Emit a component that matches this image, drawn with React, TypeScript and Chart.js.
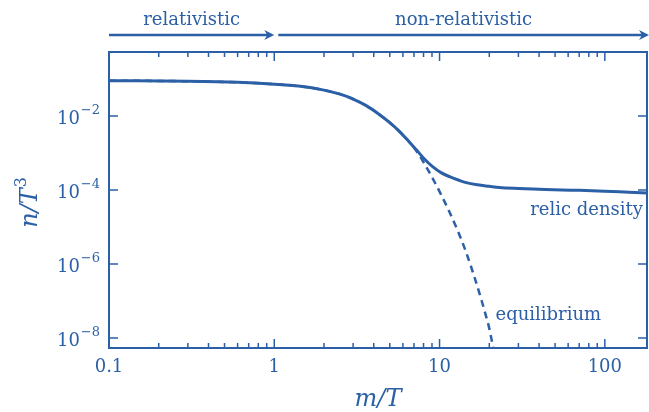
import React, { useEffect, useRef } from "react";
import { Chart, registerables } from "chart.js";

Chart.register(...registerables);

// m/T sample points along the frozen-out (relic) abundance curve
const relicX = [
  0.1, 0.3, 0.6, 1.0, 1.4, 2.0, 2.5, 3.0, 3.6, 4.3, 5.0, 5.73, 6.5, 7.26, 8.1,
  9.08, 10.2, 11.5, 13, 14.5, 17, 20, 23, 30, 40, 55, 70, 100, 140, 180,
];
// n/T^3 for the relic curve
const relicY = [
  0.0902, 0.0871, 0.0813, 0.0724, 0.0646, 0.0501, 0.0389, 0.0288, 0.0191,
  0.0112, 0.0066, 0.0038, 0.00209, 0.0012, 6.92e-4, 4.27e-4, 2.95e-4, 2.29e-4,
  1.86e-4, 1.58e-4, 1.38e-4, 1.26e-4, 1.17e-4, 1.1e-4, 1.05e-4, 1.0e-4, 9.8e-5,
  9.3e-5, 8.7e-5, 8.3e-5,
];

// m/T sample points along the equilibrium abundance curve
const equilX = [
  0.1, 0.3, 0.6, 1.0, 1.4, 2.0, 2.5, 3.0, 3.6, 4.3, 5.0, 5.73, 6.5, 7.23, 8.1,
  9.1, 10.2, 11.5, 13, 14.5, 16.3, 18, 19.2, 20, 20.8, 21.6,
];
// n/T^3 for the equilibrium curve
const equilY = [
  0.0902, 0.0871, 0.0813, 0.0724, 0.0646, 0.0501, 0.0389, 0.0288, 0.0191,
  0.0112, 0.0066, 0.0038, 0.00209, 0.00115, 5.13e-4, 2.04e-4, 7.6e-5, 2.51e-5,
  7.2e-6, 2.04e-6, 4.27e-7, 1.0e-7, 3.63e-8, 1.82e-8, 7.6e-9, 3.5e-9,
];

// axis extents and labelled ticks
const xMin = 0.1;
const xMax = 180;
const yMin = 5.37e-9;
const yMax = 0.537;
const xTickValues = [0.1, 1, 10, 100];
const xTickLabels = ["0.1", "1", "10", "100"];
const yTickExponents = [-2, -4, -6, -8];

// regime labels above the plot: [from, to, text]
const regimeFrom = [0.1, 1];
const regimeTo = [1, xMax];
const regimeText = ["relativistic", "non-relativistic"];

const INK = "#2c60a6";
const SERIF = '"DejaVu Serif", "Liberation Serif", serif';

function arrow(ctx: CanvasRenderingContext2D, x0: number, x1: number, y: number) {
  ctx.beginPath();
  ctx.moveTo(x0, y);
  ctx.lineTo(x1 - 6, y);
  ctx.stroke();
  ctx.beginPath();
  ctx.moveTo(x1, y);
  ctx.lineTo(x1 - 10, y - 5);
  ctx.lineTo(x1 - 7, y);
  ctx.lineTo(x1 - 10, y + 5);
  ctx.closePath();
  ctx.fill();
}

const framePlugin = {
  id: "frame",
  afterDatasetsDraw(chart: any) {
    const { ctx, chartArea: a, scales } = chart;
    const x = scales.x;
    const y = scales.y;
    ctx.save();
    ctx.strokeStyle = INK;
    ctx.fillStyle = INK;
    ctx.lineWidth = 2;
    ctx.lineCap = "butt";
    ctx.setLineDash([]);
    ctx.strokeRect(a.left, a.top, a.right - a.left, a.bottom - a.top);

    // inward ticks on bottom and top edges
    ctx.lineWidth = 1.5;
    for (let d = -1; d <= 2; d++) {
      for (let m = 1; m <= 9; m++) {
        const v = m * Math.pow(10, d);
        if (v < xMin || v > xMax) continue;
        const px = x.getPixelForValue(v);
        const len = m === 1 ? 9 : 5;
        ctx.beginPath();
        ctx.moveTo(px, a.bottom);
        ctx.lineTo(px, a.bottom - len);
        ctx.moveTo(px, a.top);
        ctx.lineTo(px, a.top + len);
        ctx.stroke();
      }
    }
    // inward ticks on left and right edges
    yTickExponents.forEach((e) => {
      const py = y.getPixelForValue(Math.pow(10, e));
      ctx.beginPath();
      ctx.moveTo(a.left, py);
      ctx.lineTo(a.left + 9, py);
      ctx.moveTo(a.right, py);
      ctx.lineTo(a.right - 9, py);
      ctx.stroke();
    });

    // x tick labels
    ctx.font = `18px ${SERIF}`;
    ctx.textAlign = "center";
    ctx.textBaseline = "middle";
    xTickValues.forEach((v, i) => {
      ctx.fillText(xTickLabels[i], x.getPixelForValue(v), a.bottom + 19);
    });

    // y tick labels as 10 with a raised exponent
    yTickExponents.forEach((e) => {
      const py = y.getPixelForValue(Math.pow(10, e));
      const sup = "\u2212" + Math.abs(e);
      ctx.font = `13px ${SERIF}`;
      const supW = ctx.measureText(sup).width;
      const supRight = a.left - 9;
      ctx.textAlign = "left";
      ctx.fillText(sup, supRight - supW, py - 5);
      ctx.font = `18px ${SERIF}`;
      ctx.textAlign = "right";
      ctx.fillText("10", supRight - supW - 1, py + 3);
    });

    // axis titles
    ctx.font = `italic 24px ${SERIF}`;
    ctx.textAlign = "center";
    ctx.fillText("m/T", (a.left + a.right) / 2, a.bottom + 52);

    ctx.save();
    ctx.translate(31, (a.top + a.bottom) / 2 + 3);
    ctx.rotate(-Math.PI / 2);
    ctx.font = `italic 24px ${SERIF}`;
    const base = "n/T";
    const bw = ctx.measureText(base).width;
    ctx.font = `16px ${SERIF}`;
    const ew = ctx.measureText("3").width;
    const start = -(bw + ew) / 2;
    ctx.textAlign = "left";
    ctx.font = `italic 24px ${SERIF}`;
    ctx.fillText(base, start, 0);
    ctx.font = `16px ${SERIF}`;
    ctx.fillText("3", start + bw + 1, -9);
    ctx.restore();

    // regime arrows above the frame
    ctx.lineWidth = 2.5;
    const arrowY = 35;
    ctx.font = `18px ${SERIF}`;
    ctx.textAlign = "center";
    regimeText.forEach((t, i) => {
      const x0 = x.getPixelForValue(regimeFrom[i]) + (i === 0 ? 0 : 4);
      const x1 = i === 0 ? x.getPixelForValue(regimeTo[i]) : a.right + 2;
      arrow(ctx, x0, x1, arrowY);
      ctx.fillText(t, (x0 + x1) / 2, 20);
    });

    // curve labels
    ctx.font = `18px ${SERIF}`;
    ctx.textAlign = "right";
    ctx.fillText("relic density", a.right - 4, y.getPixelForValue(2.9e-5));
    ctx.textAlign = "left";
    ctx.fillText("equilibrium", x.getPixelForValue(21.8), y.getPixelForValue(4.2e-8));
    ctx.restore();
  },
};

export default function App() {
  const ref = useRef<HTMLCanvasElement | null>(null);

  useEffect(() => {
    if (!ref.current) return;
    const chart = new Chart(ref.current, {
      type: "line",
      data: {
        datasets: [
          {
            label: "relic density",
            data: relicX.map((v, i) => ({ x: v, y: relicY[i] })),
            borderColor: INK,
            borderWidth: 3,
            pointRadius: 0,
            fill: false,
            cubicInterpolationMode: "monotone",
          },
          {
            label: "equilibrium",
            data: equilX.map((v, i) => ({ x: v, y: equilY[i] })),
            borderColor: INK,
            borderWidth: 2.5,
            borderDash: [7, 5],
            pointRadius: 0,
            fill: false,
            cubicInterpolationMode: "monotone",
          },
        ],
      },
      options: {
        responsive: false,
        animation: false,
        devicePixelRatio: 1,
        layout: { padding: { left: 109, right: 2, top: 52, bottom: 64 } },
        plugins: { legend: { display: false }, tooltip: { enabled: false } },
        scales: {
          x: { type: "logarithmic", min: xMin, max: xMax, display: false },
          y: { type: "logarithmic", min: yMin, max: yMax, display: false },
        },
      },
      plugins: [framePlugin],
    });
    return () => chart.destroy();
  }, []);

  return (
    <div style={{ position: "fixed", left: 0, top: 0, width: 649, height: 412, background: "#fff" }}>
      <canvas ref={ref} width={649} height={412} />
    </div>
  );
}
